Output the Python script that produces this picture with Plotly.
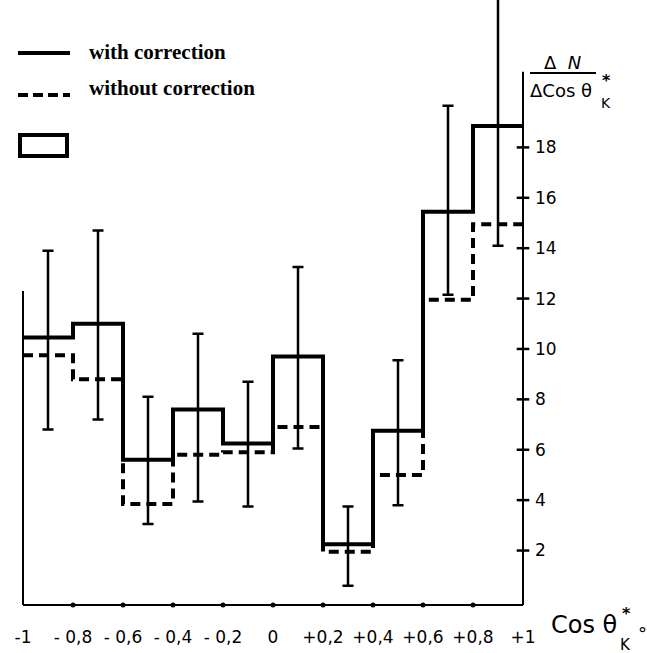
import plotly.graph_objects as go

# ---------------- data ----------------
bin_edges = [-1.0, -0.8, -0.6, -0.4, -0.2, 0.0, 0.2, 0.4, 0.6, 0.8, 1.0]
with_correction = [10.45, 11.0, 5.6, 7.6, 6.25, 9.7, 2.25, 6.75, 15.45, 18.85]
without_correction = [9.75, 8.8, 3.85, 5.8, 5.9, 6.9, 1.95, 5.0, 11.95, 14.95]
err_top = [13.9, 14.7, 8.1, 10.6, 8.7, 13.25, 3.75, 9.55, 19.65, 24.5]
err_bottom = [6.8, 7.2, 3.05, 3.95, 3.75, 6.05, 0.6, 3.8, 12.15, 14.1]

x_tick_vals = [-1.0, -0.8, -0.6, -0.4, -0.2, 0.0, 0.2, 0.4, 0.6, 0.8, 1.0]
x_tick_text = ["-1", "- 0,8", "- 0,6", "- 0,4", "- 0,2", "0", "+0,2", "+0,4", "+0,6", "+0,8", "+1"]
y_tick_vals = [2, 4, 6, 8, 10, 12, 14, 16, 18]
y_tick_text = ["2", "4", "6", "8", "10", "12", "14", "16", "18"]

legend_labels = ["with correction", "without correction"]

# ---------------- layout geometry ----------------
W, H = 647, 653
L, R, T, B = 18, 528, 0, 611          # plot area in pixels
X_RANGE = [-1.02, 1.02]
Y_RANGE = [-0.4, 23.85]
AXIS_Y = -0.16
Y_AXIS_TOP = 21.0
LEFT_LINE_TOP = 12.3


def px(x):
    return (x - L) / (R - L)


def py(y):
    return (B - y) / (B - T)


centers = [(a + b) / 2 for a, b in zip(bin_edges[:-1], bin_edges[1:])]

fig = go.Figure()

# histograms as step lines
fig.add_trace(go.Scatter(
    x=bin_edges, y=with_correction + [with_correction[-1]],
    mode="lines", line=dict(shape="hv", color="black", width=4),
    name=legend_labels[0], showlegend=False, hoverinfo="skip"))
fig.add_trace(go.Scatter(
    x=bin_edges, y=without_correction + [without_correction[-1]],
    mode="lines", line=dict(shape="hv", color="black", width=4, dash="10px,6px"),
    name=legend_labels[1], showlegend=False, hoverinfo="skip"))

# error bars
fig.add_trace(go.Scatter(
    x=centers, y=with_correction, mode="markers",
    marker=dict(size=1, color="rgba(0,0,0,0)"),
    error_y=dict(type="data", symmetric=False,
                 array=[t - v for t, v in zip(err_top, with_correction)],
                 arrayminus=[v - b for b, v in zip(err_bottom, with_correction)],
                 color="black", thickness=2.5, width=5.5),
    showlegend=False, hoverinfo="skip"))

# tick marks on the x axis (dots)
fig.add_trace(go.Scatter(
    x=x_tick_vals[1:-1], y=[AXIS_Y] * (len(x_tick_vals) - 2), mode="markers",
    marker=dict(symbol="circle", size=5, color="black"),
    showlegend=False, hoverinfo="skip", cliponaxis=False))

# tick marks on the y axis (crossing dashes)
fig.add_trace(go.Scatter(
    x=[1.0] * len(y_tick_vals), y=y_tick_vals, mode="markers",
    marker=dict(symbol="line-ew", size=9, line=dict(width=2.5, color="black")),
    showlegend=False, hoverinfo="skip", cliponaxis=False))

shapes = [
    # x axis
    dict(type="line", xref="x", yref="y", x0=-1, x1=1, y0=AXIS_Y, y1=AXIS_Y,
         line=dict(color="black", width=2)),
    # y axis (right)
    dict(type="line", xref="x", yref="y", x0=1, x1=1, y0=AXIS_Y, y1=Y_AXIS_TOP,
         line=dict(color="black", width=2)),
    # left frame line
    dict(type="line", xref="x", yref="y", x0=-1, x1=-1, y0=AXIS_Y, y1=LEFT_LINE_TOP,
         line=dict(color="black", width=2)),
    # legend samples
    dict(type="line", xref="paper", yref="paper", x0=px(18), x1=px(70), y0=py(53), y1=py(53),
         line=dict(color="black", width=4)),
    dict(type="line", xref="paper", yref="paper", x0=px(18), x1=px(70), y0=py(95), y1=py(95),
         line=dict(color="black", width=4, dash="10px,5px")),
    dict(type="rect", xref="paper", yref="paper", x0=px(20), x1=px(67), y0=py(135), y1=py(156),
         line=dict(color="black", width=4), fillcolor="white"),
    # fraction bar of y title
    dict(type="line", xref="paper", yref="paper", x0=px(530), x1=px(596), y0=py(73), y1=py(73),
         line=dict(color="black", width=2)),
]

tick_font = dict(family="DejaVu Sans", size=17, color="black")


def note(text, x, y, size, xanchor="center", family="DejaVu Sans"):
    return dict(text=text, x=px(x), y=py(y), xref="paper", yref="paper",
                xanchor=xanchor, yanchor="middle", showarrow=False,
                font=dict(family=family, size=size, color="black"))


annotations = [
    note("<b>" + legend_labels[0] + "</b>", 87, 52, 21, "left", "Liberation Serif"),
    note("<b>" + legend_labels[1] + "</b>", 87, 88, 21, "left", "Liberation Serif"),
    # y title
    note("Δ  <i>N</i>", 562, 62, 18),
    note("ΔCos θ", 561, 90, 18),
    note("<b>*</b>", 606, 80, 16),
    note("K", 606, 103, 14),
    # x title
    note("Cos θ", 549, 625, 24, "left"),
    note("<b>*</b>", 626, 613, 16),
    note("K", 625, 645, 15),
    note("°", 642, 633, 18),
]

fig.update_layout(
    width=W, height=H,
    margin=dict(l=L, r=W - R, t=T, b=H - B, pad=0),
    paper_bgcolor="white", plot_bgcolor="white",
    showlegend=False,
    shapes=shapes,
    annotations=annotations,
    xaxis=dict(range=X_RANGE, showgrid=False, zeroline=False, showline=False,
               tickmode="array", tickvals=x_tick_vals, ticktext=x_tick_text,
               ticks="", tickfont=tick_font, ticklabelstandoff=14, fixedrange=True),
    yaxis=dict(range=Y_RANGE, side="right", showgrid=False, zeroline=False, showline=False,
               tickmode="array", tickvals=y_tick_vals, ticktext=y_tick_text,
               ticks="", tickfont=tick_font, ticklabelstandoff=6, fixedrange=True),
)

fig.write_html("out.html")
